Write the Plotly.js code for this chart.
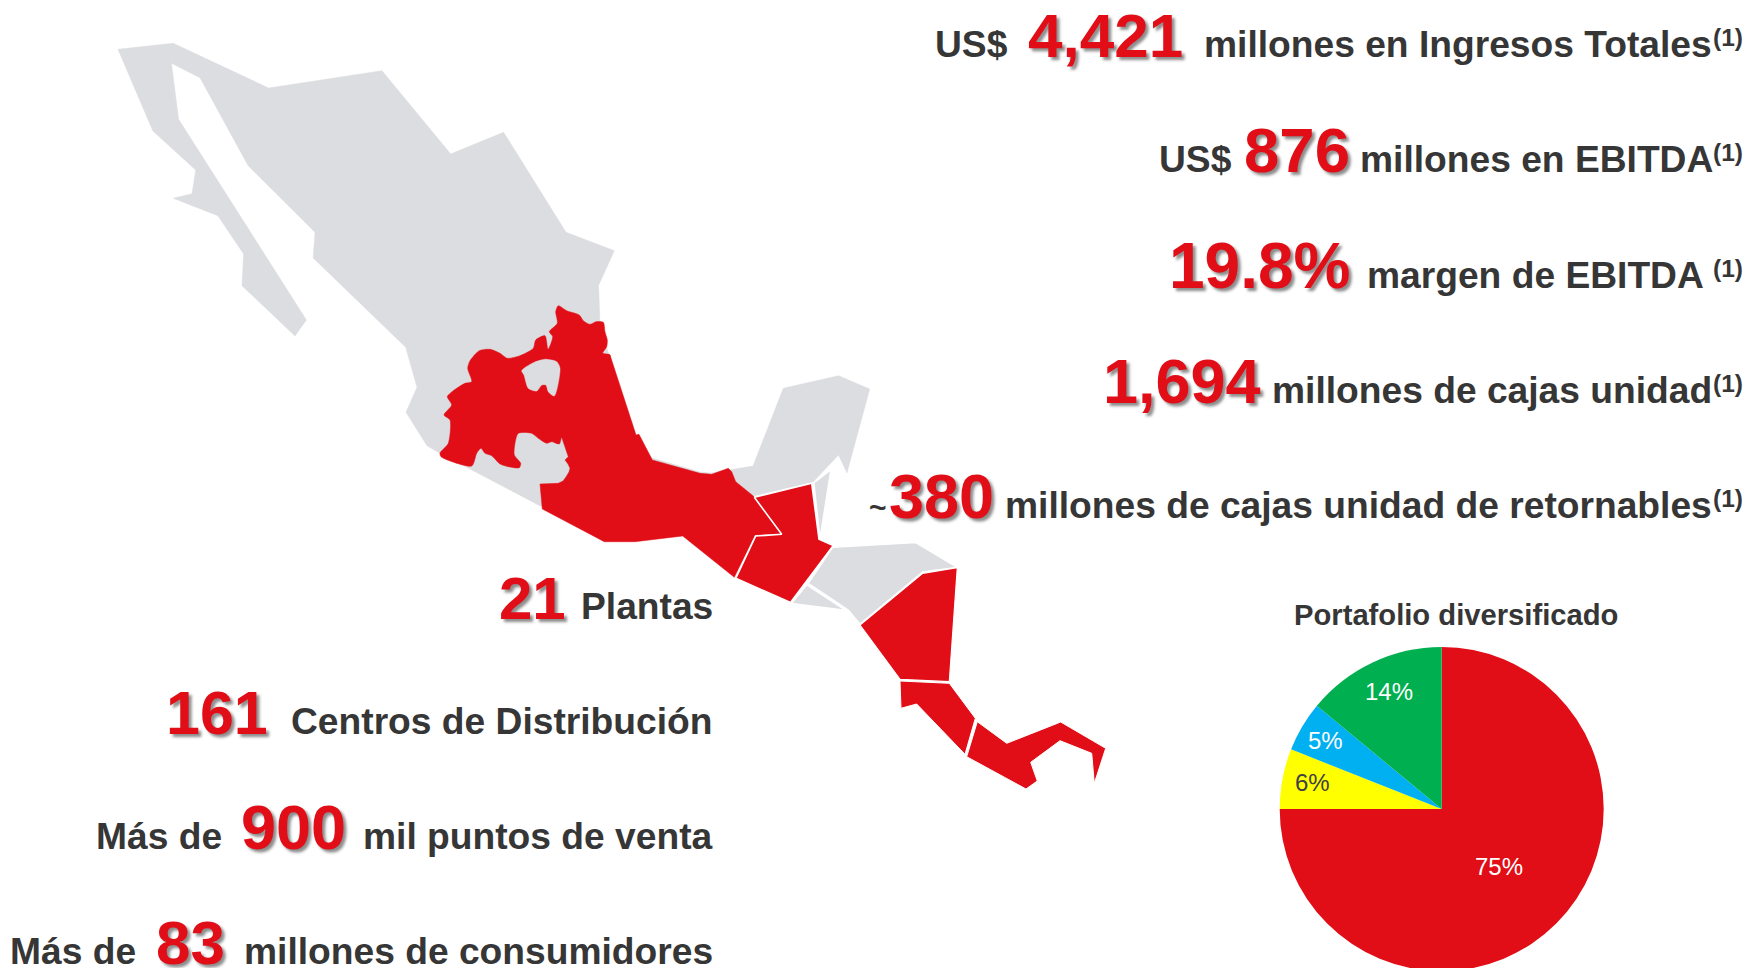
<!DOCTYPE html>
<html><head><meta charset="utf-8">
<script src="https://cdn.plot.ly/plotly-3.0.1.min.js"></script>
<style>html,body{margin:0;padding:0;background:#fff;overflow:hidden}#c{width:1748px;height:972px}</style>
</head><body><div id="c"></div>
<script>
// Region outlines (x, y in page-scale map units)
const mexicoGray=[[118,49.3],[173.2,43.3],[268.6,88],[382,70.7],[450.7,154],[503.6,132.3],[566,232.3],[614.3,250.7],[598.6,285.3],[600,325],[608,352],[636,435],[652,458],[700,472],[711,473],[753,466],[783.3,388.3],[838.5,375.7],[869.7,389],[847,472.8],[838.5,455],[813,482],[753.3,496],[735,482],[682,536],[604,541],[541.7,506.7],[471.4,470],[439,452.7],[427,445.7],[406,412.3],[417,387.3],[405.7,347.3],[313.2,258],[315,232.3],[248.2,165.7],[200,77.7],[171.4,63.3],[178.6,119.3],[306.4,320],[295,336],[242,285.7],[243.6,254],[217.9,215.7],[173.2,198.3],[192,193.7],[195.7,170],[152.9,131]];
const redSouth=[[610,355],[620,385],[636,435],[639,434.3],[652.3,460],[700,473.3],[711.7,474.3],[728.3,468.3],[731.7,471.7],[735.7,481.7],[753.3,496],[781,534],[755,535],[734.3,577.3],[682.7,536],[635,541.7],[604.3,541.7],[542.3,509],[540,484],[558.3,483.3],[563,481],[566,477],[569,472],[570,468.3],[568,464],[565,460],[568.3,456.7],[561.7,437.3],[556,400],[590,352]];
const redNorth=[[558.3,305.7],[566.7,310.7],[579.3,315],[583.3,320.7],[590,324.3],[596,321.7],[603.3,322.3],[605,331.7],[607.3,340],[606.7,346.7],[602.7,353.3],[610,355],[590,400],[561.7,437.3],[559.3,444],[551.7,441.7],[546.7,443.3],[538.3,438.3],[531.7,433.3],[518.3,433.3],[515,443.3],[514.3,455],[520.7,463.3],[519.3,467.7],[508.3,466.7],[500,464],[491.7,455.7],[485,453.3],[481,448.3],[476.7,453.3],[471.7,466],[441,456.7],[440,453],[448.3,443.3],[450,420],[444,415],[451.7,405],[447.3,396.7],[453.3,390.7],[465,383.3],[471.7,381.7],[467.7,368.3],[470,360.7],[479.3,350.7],[490,349.3],[500,353.3],[507.3,358.3],[520,355.7],[533.3,348.3],[535.7,340],[545,335.7],[548,349.3],[552.7,336.7],[549.3,331.7],[557.3,323.3],[555.7,311.7]];
const bajioHole=[[521.7,370.7],[533.3,362.7],[545,359.3],[556.7,361.7],[560,368.3],[554.3,396],[548.3,391.7],[546,385],[541.7,385],[536.7,391],[528.3,388.3],[524,375]];
const belize=[[814,483],[830.7,470],[820,538]];
const guatemala=[[754.3,497.3],[811.7,483.3],[819,539.3],[833.3,545.5],[790.5,602.5],[735.7,578.3],[755.7,536],[781.7,534.3]];
const honduras=[[832.7,547.3],[915.7,542.7],[956.7,567.3],[922.7,571.7],[860,624],[848.3,610],[808.3,583.3]];
const elSalvador=[[806.7,585],[845,610],[791.7,603.3]];
const nicaragua=[[860,625],[922.7,573.3],[957.3,567.7],[949.3,681.7],[900,679.3]];
const costaRica=[[900,681],[949.3,683.3],[975.3,718.3],[965,754.3],[916.7,704],[901,708.3]];
const panama=[[977.3,721.7],[1006.7,743.3],[1060.7,722],[1105.7,748.3],[1094.3,783.3],[1091.7,753.3],[1060,740.7],[1030.7,762.3],[1037.3,781],[1026,789],[966.7,756.7]];

// Pie
const pieTitle="Portafolio diversificado";
const pieLabels=["75%","6%","5%","14%"];
const pieValues=[75,6,5,14];
const pieColors=["#E10E17","#FFFF00","#00B0F0","#00AF50"];
const pieTextColors=["#ffffff","#404040","#ffffff","#ffffff"];
const pieTextX=[1499,1312.3,1325,1389];
const pieTextY=[866.7,782.7,740,691.7];

// Headline text runs: [text, right edge, baseline, kind, size]
const headlineRuns=[
 ["US$",1008,56,"label",37.2],["4,421",1183,56,"num",62],["millones en Ingresos Totales",1712,56,"label",37.2],["(1)",1743,46,"sup",24.5],
 ["US$",1232,171,"label",37.2],["876",1350,171,"num",63.5],["millones en EBITDA",1713,171,"label",37.2],["(1)",1743,161,"sup",24.5],
 ["19.8%",1350,287,"num",64],["margen de EBITDA",1704,287,"label",37.2],["(1)",1743,277,"sup",24.5],
 ["1,694",1261,402,"num",63],["millones de cajas unidad",1712,402,"label",37.2],["(1)",1743,392,"sup",24.5],
 ["~",887,517,"tilde",30],["380",994,517,"num",63],["millones de cajas unidad de retornables",1712,517,"label",37.2],["(1)",1743,507,"sup",24.5],
 ["21",566,618,"num",60],["Plantas",713,618,"label",37.2],
 ["161",268,733,"num",61],["Centros de Distribución",713,733,"label",37.2],
 ["Más de",222,848,"label",37.2],["900",346,848,"num",63],["mil puntos de venta",713,848,"label",37.2],
 ["Más de",136,963,"label",37.2],["83",225,963,"num",62],["millones de consumidores",713,963,"label",37.2]
];

const RED="#E10E17",GRAY="#DCDDE0",INK="#363636",FONT="Liberation Sans, Arial, sans-serif";
const poly=(pts,fill,lw,curved)=>({type:"scatter",mode:"lines",x:pts.map(p=>p[0]).concat(pts[0][0]),y:pts.map(p=>p[1]).concat(pts[0][1]),
  fill:"toself",fillcolor:fill,line:{color:lw?"#fff":fill,width:lw||0.5,shape:curved?"spline":"linear",smoothing:0.7},hoverinfo:"skip",showlegend:false,xaxis:"x",yaxis:"y"});
const traces=[
 poly(mexicoGray,GRAY),poly(belize,GRAY,1.2),poly(redSouth,RED),poly(redNorth,RED,0,true),poly(bajioHole,GRAY,0,true),
 poly(guatemala,RED,1.6),poly(honduras,GRAY,1.2),poly(elSalvador,GRAY,1.2),poly(nicaragua,RED,1.2),poly(costaRica,RED,1),poly(panama,RED,1),
 {type:"pie",values:pieValues,labels:pieLabels,sort:false,direction:"clockwise",rotation:0,textinfo:"none",hoverinfo:"skip",
  marker:{colors:pieColors,line:{width:0}},showlegend:false,
  domain:{x:[1279.7/1748,1603.7/1748],y:[1/972,325/972]}}
];
const kinds={
 label:{color:INK},
 num:{color:RED,shadow:"3px 3px 3px rgba(0,0,0,0.45)"},
 sup:{color:INK},
 tilde:{color:INK}
};
const ann=headlineRuns.map(r=>{const k=kinds[r[3]];return {
  xref:"x",yref:"y",x:r[1],y:r[2]-0.33*r[4],text:r[0],showarrow:false,xanchor:"right",yanchor:"middle",align:"right",
  borderpad:0,borderwidth:0,font:{family:FONT,size:r[4],color:k.color,weight:700,shadow:k.shadow||"none"}};});
pieLabels.forEach((t,i)=>ann.push({xref:"x",yref:"y",x:pieTextX[i],y:pieTextY[i],text:t,showarrow:false,xanchor:"center",yanchor:"middle",
  font:{family:FONT,size:24,color:pieTextColors[i]}}));
ann.push({xref:"x",yref:"y",x:1455.5,y:615,text:pieTitle,showarrow:false,xanchor:"center",yanchor:"middle",
  font:{family:FONT,size:29.2,color:INK,weight:700}});
Plotly.newPlot("c",traces,{
 width:1748,height:972,margin:{l:0,r:0,t:0,b:0,pad:0},paper_bgcolor:"#fff",plot_bgcolor:"#fff",showlegend:false,
 xaxis:{range:[0,1748],visible:false,fixedrange:true},
 yaxis:{range:[972,0],visible:false,fixedrange:true},
 annotations:ann
},{displayModeBar:false,staticPlot:true});
</script></body></html>
